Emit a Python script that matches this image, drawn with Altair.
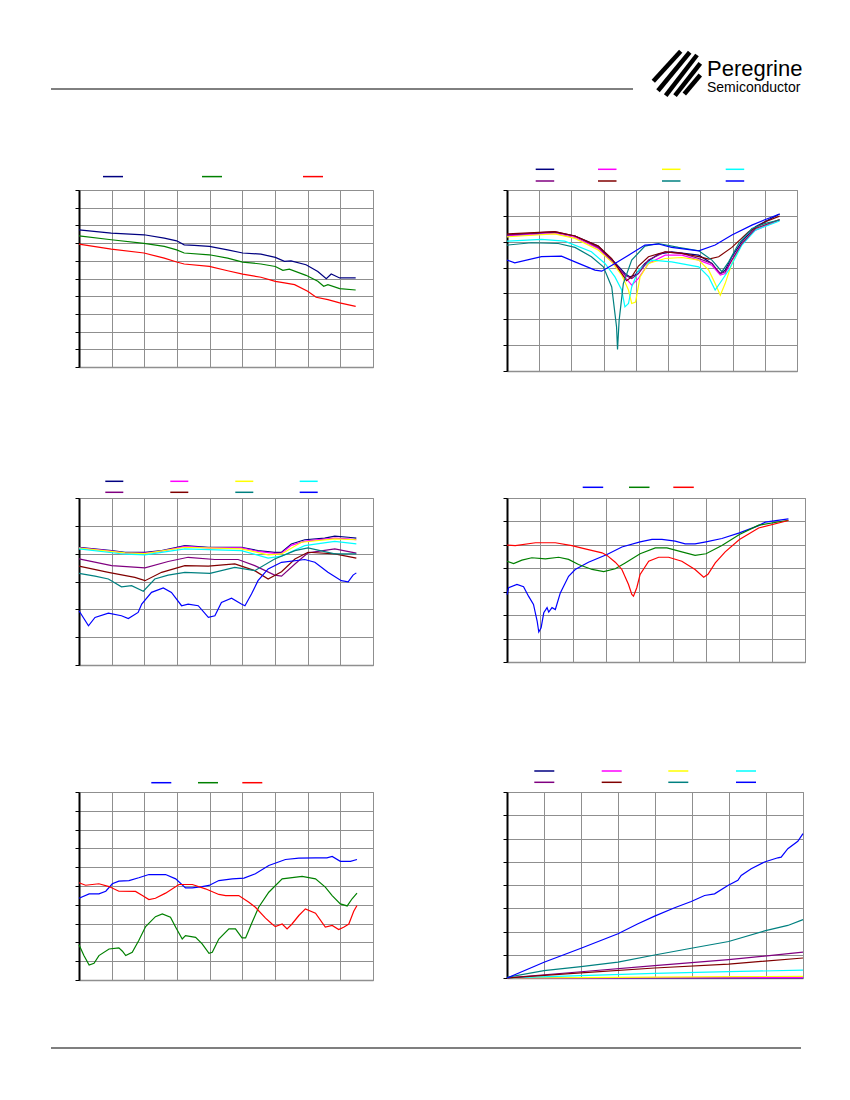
import altair as alt
import pandas as pd

GRID = "#8f8f8f"

# ---------------- colours ----------------
COL_P1 = ["#000080", "#008000", "#ff0000"]
COL_3 = ["#0000ff", "#008000", "#ff0000"]
COL_8 = ["#000080", "#ff00ff", "#ffff00", "#00ffff", "#800080", "#800000", "#008080", "#0000ff"]
NAMES_3 = ["S1", "S2", "S3"]
NAMES_8 = ["S1", "S2", "S3", "S4", "S5", "S6", "S7", "S8"]

# ---------------- panel 1 (top left) ----------------
P1_X_BLUE = [0, 0.99, 1.99, 2.61, 2.99, 3.22, 3.53, 3.99, 4.55, 5.01, 5.57, 6.01, 6.29, 6.49, 6.95, 7.31, 7.57, 7.72, 7.98, 8.47]
P1_Y_BLUE = [7.75, 7.56, 7.47, 7.28, 7.13, 6.90, 6.87, 6.81, 6.62, 6.44, 6.38, 6.19, 5.97, 6.00, 5.78, 5.40, 4.99, 5.25, 5.03, 5.03]
P1_X_GREEN = [0, 0.99, 1.99, 2.61, 2.99, 3.22, 3.99, 4.55, 5.01, 5.57, 6.01, 6.24, 6.44, 6.95, 7.31, 7.49, 7.62, 7.98, 8.47]
P1_Y_GREEN = [7.41, 7.19, 6.98, 6.81, 6.62, 6.44, 6.34, 6.15, 5.93, 5.82, 5.68, 5.46, 5.53, 5.18, 4.84, 4.56, 4.65, 4.43, 4.35]
P1_X_RED = [0, 0.99, 1.99, 2.61, 2.99, 3.22, 3.99, 4.55, 5.01, 5.57, 6.01, 6.29, 6.60, 7.00, 7.26, 7.62, 7.98, 8.47]
P1_Y_RED = [6.94, 6.66, 6.44, 6.15, 5.93, 5.82, 5.68, 5.44, 5.25, 5.07, 4.84, 4.75, 4.65, 4.28, 3.94, 3.81, 3.62, 3.43]

# ---------------- panel 2 (top right) ----------------
P2_X_NAVY = [0, 1.48, 2.11, 2.83, 3.30, 3.66, 3.82, 3.97, 4.28, 4.70, 5.11, 5.95, 6.36, 6.51, 6.62, 6.77, 6.98, 7.29, 7.71, 8.46]
P2_Y_NAVY = [5.26, 5.36, 5.22, 4.83, 4.26, 3.77, 3.64, 3.71, 4.16, 4.52, 4.61, 4.48, 4.16, 3.90, 3.77, 3.90, 4.42, 5.00, 5.58, 6.07]
P2_X_MAGENTA = [0, 1.48, 2.11, 2.83, 3.30, 3.66, 3.87, 4.08, 4.39, 4.91, 5.43, 5.95, 6.36, 6.62, 6.77, 6.98, 7.29, 7.71, 8.46]
P2_Y_MAGENTA = [5.22, 5.32, 5.17, 4.74, 4.16, 3.64, 3.32, 3.58, 4.16, 4.48, 4.48, 4.29, 4.09, 3.71, 3.77, 4.29, 4.93, 5.45, 5.84]
P2_X_YELLOW = [0, 1.48, 2.11, 2.83, 3.25, 3.56, 3.77, 3.87, 3.99, 4.13, 4.39, 4.91, 5.43, 5.95, 6.26, 6.46, 6.62, 6.77, 6.98, 7.29, 7.71, 8.46]
P2_Y_YELLOW = [5.19, 5.30, 5.13, 4.68, 4.22, 3.71, 3.13, 2.61, 2.67, 3.64, 4.16, 4.35, 4.39, 4.29, 3.90, 3.38, 2.93, 3.38, 4.16, 4.93, 5.51, 5.86]
P2_X_CYAN = [0, 1.07, 1.79, 2.62, 3.04, 3.35, 3.56, 3.66, 3.77, 3.87, 4.08, 4.49, 5.11, 5.95, 6.26, 6.46, 6.67, 6.88, 7.29, 7.71, 8.46]
P2_Y_CYAN = [5.02, 5.09, 5.02, 4.61, 4.16, 3.64, 3.13, 2.48, 2.61, 3.25, 3.90, 4.29, 4.22, 4.03, 3.64, 3.13, 3.51, 3.90, 4.87, 5.45, 5.80]
P2_X_PURPLE = [0, 1.48, 2.11, 2.83, 3.30, 3.66, 3.87, 4.08, 4.39, 4.91, 5.43, 5.95, 6.36, 6.62, 6.77, 6.98, 7.29, 7.71, 8.46]
P2_Y_PURPLE = [5.26, 5.39, 5.22, 4.78, 4.22, 3.71, 3.58, 3.77, 4.29, 4.61, 4.55, 4.35, 4.16, 3.77, 3.84, 4.29, 4.93, 5.51, 5.86]
P2_X_MAROON = [0, 1.48, 2.11, 2.83, 3.25, 3.56, 3.71, 3.87, 4.08, 4.39, 4.91, 5.43, 5.95, 6.26, 6.57, 6.98, 7.50, 8.02, 8.46]
P2_Y_MAROON = [5.30, 5.39, 5.22, 4.83, 4.35, 3.77, 3.49, 3.64, 4.06, 4.42, 4.61, 4.55, 4.42, 4.33, 4.42, 4.78, 5.39, 5.77, 5.99]
P2_X_TEAL = [0, 0.76, 1.59, 2.11, 2.62, 2.99, 3.25, 3.40, 3.43, 3.48, 3.61, 3.87, 4.28, 4.70, 5.32, 5.95, 6.36, 6.67, 6.88, 7.19, 7.60, 8.02, 8.46]
P2_Y_TEAL = [4.87, 4.96, 4.93, 4.78, 4.42, 4.03, 3.25, 1.70, 0.83, 1.96, 3.38, 4.29, 4.83, 4.93, 4.78, 4.65, 4.29, 3.84, 4.22, 4.93, 5.51, 5.71, 5.84]
P2_X_BLUE = [0, 0.24, 1.07, 1.69, 2.11, 2.73, 2.94, 3.35, 3.87, 4.28, 4.70, 5.11, 5.95, 6.46, 6.98, 7.60, 8.02, 8.46]
P2_Y_BLUE = [4.29, 4.18, 4.42, 4.44, 4.22, 3.90, 3.86, 4.16, 4.55, 4.87, 4.91, 4.78, 4.65, 4.87, 5.26, 5.64, 5.86, 6.07]

# ---------------- panel 3 (middle left) ----------------
P3_X_NAVY = [0, 1.00, 1.41, 2.02, 2.53, 3.24, 3.96, 4.97, 5.48, 5.99, 6.20, 6.50, 6.91, 7.52, 7.83, 8.24, 8.49]
P3_Y_NAVY = [4.23, 4.11, 4.05, 4.05, 4.11, 4.29, 4.23, 4.23, 4.11, 4.05, 4.05, 4.35, 4.50, 4.56, 4.63, 4.59, 4.56]
P3_X_MAGENTA = [0, 1.00, 1.41, 2.02, 2.53, 3.24, 3.96, 4.97, 5.48, 5.99, 6.20, 6.50, 6.91, 7.52, 7.83, 8.24, 8.49]
P3_Y_MAGENTA = [4.21, 4.09, 4.02, 4.02, 4.09, 4.26, 4.21, 4.21, 4.08, 4.01, 4.02, 4.30, 4.45, 4.52, 4.56, 4.53, 4.50]
P3_X_YELLOW = [0, 1.41, 2.02, 3.24, 4.97, 5.79, 6.20, 6.81, 7.83, 8.49]
P3_Y_YELLOW = [4.20, 4.03, 4.00, 4.23, 4.17, 3.96, 3.99, 4.41, 4.53, 4.50]
P3_X_CYAN = [0, 1.41, 2.02, 3.24, 4.97, 5.79, 6.20, 6.91, 7.83, 8.49]
P3_Y_CYAN = [4.17, 3.98, 3.96, 4.17, 4.11, 3.84, 3.91, 4.29, 4.44, 4.35]
P3_X_PURPLE = [0, 1.00, 2.02, 2.73, 3.34, 4.16, 4.87, 5.38, 5.99, 6.20, 6.61, 7.01, 7.83, 8.49]
P3_Y_PURPLE = [3.81, 3.57, 3.49, 3.72, 3.87, 3.79, 3.79, 3.57, 3.23, 3.19, 3.63, 4.03, 4.17, 4.02]
P3_X_MAROON = [0, 0.90, 1.71, 2.02, 2.53, 3.24, 3.96, 4.77, 5.38, 5.79, 6.20, 6.61, 7.01, 7.83, 8.49]
P3_Y_MAROON = [3.55, 3.33, 3.15, 3.03, 3.33, 3.57, 3.55, 3.63, 3.39, 3.09, 3.35, 3.81, 4.05, 3.99, 3.84]
P3_X_TEAL = [0, 0.49, 0.90, 1.30, 1.61, 1.97, 2.32, 2.73, 3.24, 4.01, 4.77, 5.38, 5.99, 6.61, 7.01, 7.83, 8.49]
P3_Y_TEAL = [3.29, 3.19, 3.09, 2.81, 2.85, 2.65, 3.09, 3.23, 3.33, 3.29, 3.51, 3.39, 3.81, 4.11, 4.21, 3.99, 3.99]
P3_X_BLUE = [0, 0.29, 0.49, 0.90, 1.30, 1.51, 1.81, 1.92, 2.22, 2.58, 2.83, 3.14, 3.34, 3.65, 3.96, 4.16,
             4.36, 4.67, 4.97, 5.08, 5.28, 5.48, 5.79, 6.20, 6.91, 7.22, 7.62, 8.03, 8.24, 8.39, 8.49]
P3_Y_BLUE = [1.95, 1.41, 1.71, 1.86, 1.77, 1.67, 1.89, 2.19, 2.61, 2.77, 2.61, 2.13, 2.19, 2.13, 1.71, 1.77,
             2.25, 2.40, 2.19, 2.13, 2.55, 3.03, 3.45, 3.69, 3.79, 3.69, 3.33, 3.03, 2.99, 3.23, 3.31]

# ---------------- panel 4 (middle right) ----------------
P4_X_BLUE = [0, 0.05, 0.30, 0.50, 0.65, 0.80, 0.91, 0.96, 1.03, 1.11, 1.21, 1.26, 1.36, 1.46, 1.61, 1.86,
             2.06, 2.46, 3.02, 3.47, 4.02, 4.38, 4.68, 5.08, 5.38, 5.68, 6.01, 6.49, 7.02, 7.60, 7.80, 8.50]
P4_Y_BLUE = [2.88, 3.17, 3.31, 3.21, 2.81, 2.46, 1.75, 1.28, 1.46, 2.10, 2.32, 2.13, 2.32, 2.24, 2.95, 3.66,
             3.95, 4.26, 4.59, 4.91, 5.13, 5.23, 5.23, 5.16, 5.04, 5.04, 5.13, 5.27, 5.51, 5.82, 5.97, 6.11]
P4_X_GREEN = [0, 0.20, 0.45, 0.75, 1.16, 1.56, 1.86, 2.16, 2.57, 2.92, 3.27, 3.57, 4.02, 4.48, 4.83, 5.28,
              5.68, 6.01, 6.49, 7.02, 7.60, 8.50]
P4_Y_GREEN = [4.30, 4.20, 4.35, 4.45, 4.40, 4.47, 4.38, 4.16, 3.95, 3.86, 3.98, 4.23, 4.62, 4.87, 4.87, 4.70,
              4.55, 4.62, 4.97, 5.44, 5.84, 6.05]
P4_X_RED = [0, 0.25, 0.86, 1.46, 1.96, 2.36, 2.87, 3.02, 3.27, 3.47, 3.67, 3.77, 3.82, 3.92, 4.02, 4.28,
            4.58, 4.88, 5.28, 5.68, 5.94, 6.07, 6.29, 6.59, 7.02, 7.60, 8.50]
P4_Y_RED = [4.99, 4.97, 5.09, 5.09, 4.97, 4.83, 4.66, 4.55, 4.26, 3.95, 3.31, 2.88, 2.81, 3.17, 3.74, 4.30,
            4.47, 4.47, 4.30, 3.95, 3.62, 3.74, 4.23, 4.70, 5.23, 5.72, 6.04]

# ---------------- panel 5 (bottom left) ----------------
P5_X_BLUE = [0, 0.31, 0.61, 0.82, 1.02, 1.22, 1.53, 1.83, 2.14, 2.65, 2.96, 3.26, 3.47, 3.77, 3.98, 4.28,
             4.69, 5.05, 5.40, 5.81, 6.32, 6.73, 7.24, 7.59, 7.75, 8.00, 8.31, 8.51]
P5_Y_BLUE = [4.35, 4.58, 4.58, 4.72, 5.12, 5.26, 5.29, 5.44, 5.61, 5.61, 5.38, 4.90, 4.90, 4.97, 5.03, 5.29,
             5.38, 5.42, 5.65, 6.09, 6.41, 6.48, 6.50, 6.50, 6.57, 6.31, 6.31, 6.41]
P5_X_GREEN = [0, 0.15, 0.31, 0.46, 0.61, 0.92, 1.22, 1.33, 1.43, 1.63, 1.83, 2.04, 2.34, 2.55, 2.80, 2.96,
              3.16, 3.26, 3.57, 3.77, 3.98, 4.08, 4.28, 4.59, 4.79, 4.99, 5.10, 5.30, 5.50, 5.81, 6.22,
              6.83, 7.24, 7.54, 7.75, 8.00, 8.21, 8.36, 8.51]
P5_Y_GREEN = [1.88, 1.30, 0.80, 0.89, 1.30, 1.65, 1.71, 1.53, 1.30, 1.47, 2.10, 2.84, 3.37, 3.52, 3.34, 2.81,
              2.18, 2.36, 2.27, 1.92, 1.42, 1.47, 2.18, 2.72, 2.72, 2.24, 2.24, 3.07, 3.87, 4.67, 5.38,
              5.51, 5.38, 4.94, 4.49, 4.05, 3.94, 4.32, 4.62]
P5_X_RED = [0, 0.20, 0.61, 0.92, 1.22, 1.73, 1.94, 2.14, 2.34, 2.65, 3.06, 3.47, 3.87, 4.28, 4.49, 4.89,
            5.20, 5.40, 5.71, 5.91, 6.01, 6.22, 6.37, 6.52, 6.73, 6.93, 7.24, 7.54, 7.75, 7.95, 8.10,
            8.26, 8.41, 8.51]
P5_Y_RED = [5.17, 5.04, 5.12, 4.97, 4.72, 4.71, 4.49, 4.28, 4.35, 4.62, 5.08, 5.08, 4.85, 4.55, 4.49, 4.49,
            4.14, 3.87, 3.29, 2.98, 2.84, 2.98, 2.72, 2.98, 3.43, 3.78, 3.55, 2.81, 2.90, 2.68, 2.81,
            2.98, 3.66, 3.96]

# ---------------- panel 6 (bottom right) ----------------
P6_X_FEW = [0, 2.00, 3.99, 5.99, 8.00]
P6_Y_NAVY = [0, 0.0, 0.0, 0.005, 0.005]
P6_Y_MAGENTA = [0, 0.005, 0.01, 0.01, 0.015]
P6_Y_YELLOW = [0, 0.02, 0.04, 0.06, 0.07]
P6_Y_CYAN = [0, 0.10, 0.20, 0.27, 0.34]
P6_Y_PURPLE = [0, 0.27, 0.53, 0.79, 1.11]
P6_Y_MAROON = [0, 0.22, 0.43, 0.60, 0.86]
P6_X_TEAL = [0, 1.00, 2.00, 3.00, 3.99, 4.98, 5.99, 6.99, 7.59, 8.00]
P6_Y_TEAL = [0.03, 0.32, 0.49, 0.68, 0.99, 1.28, 1.57, 2.04, 2.26, 2.51]
P6_X_BLUE = [0, 1.00, 2.00, 3.00, 3.54, 3.99, 4.53, 4.98, 5.34, 5.61, 5.97, 6.24, 6.33, 6.60, 6.96, 7.32,
             7.41, 7.59, 7.86, 8.00]
P6_Y_BLUE = [0, 0.68, 1.28, 1.90, 2.33, 2.66, 3.02, 3.29, 3.55, 3.62, 3.98, 4.20, 4.41, 4.70, 4.99, 5.17,
             5.20, 5.56, 5.88, 6.21]


def frame(names, xs, ys):
    rows = []
    for n, xl, yl in zip(names, xs, ys):
        for x, y in zip(xl, yl):
            rows.append({"series": n, "x": x, "y": y})
    return pd.DataFrame(rows)


ONE = alt.Data(values=[{}])


def legend_rules(colors, xs, ys, w, ncol):
    layers = []
    for i, c in enumerate(colors):
        x0 = xs[i % ncol]
        y0 = ys[i // ncol]
        layers.append(
            alt.Chart(ONE).mark_rule(color=c, strokeWidth=1.5).encode(
                x=alt.value(x0), x2=alt.value(x0 + w), y=alt.value(y0)
            )
        )
    return layers


def panel(df, names, colors, xmax, ymax, w, h, legend, extra=None):
    lines = alt.Chart(df).mark_line(strokeWidth=1.2).encode(
        x=alt.X("x:Q", scale=alt.Scale(domain=[0, xmax], nice=False, zero=False),
                axis=alt.Axis(values=list(range(xmax + 1)), labels=False, ticks=False, title=None,
                              grid=True, gridColor=GRID, gridWidth=1, domainColor=GRID, domainWidth=1.5)),
        y=alt.Y("y:Q", scale=alt.Scale(domain=[0, ymax], nice=False, zero=False),
                axis=alt.Axis(values=list(range(ymax + 1)), labels=False, ticks=True, tickSize=4,
                              tickColor="black", tickWidth=1, domainColor="black", domainWidth=2,
                              title=None, grid=True, gridColor=GRID, gridWidth=1)),
        color=alt.Color("series:N", scale=alt.Scale(domain=names, range=colors), legend=None),
    )
    layers = [lines] + legend + (extra or [])
    return alt.layer(*layers).properties(width=w, height=h)


# header / footer decorations (relative to panel 1's plot origin)
BLADES = [(574.3, -108.7, 601.7, -138.7), (579, -99.3, 610.7, -137.7), (586.7, -94.3, 618, -135),
          (596, -94.3, 621.3, -126.7), (605.3, -96, 621.3, -115)]
deco = [
    alt.Chart(ONE).mark_rule(color="black", strokeWidth=1).encode(
        x=alt.value(-28), x2=alt.value(554), y=alt.value(-101)),
    alt.Chart(ONE).mark_rule(color="black", strokeWidth=1.2).encode(
        x=alt.value(-28), x2=alt.value(722), y=alt.value(858)),
    alt.Chart(ONE).mark_text(text="Peregrine", font="Liberation Sans", fontSize=22, align="left",
                             baseline="alphabetic", color="black").encode(
        x=alt.value(628), y=alt.value(-114.3)),
    alt.Chart(ONE).mark_text(text="Semiconductor", font="Liberation Sans", fontSize=14, align="left",
                             baseline="alphabetic", color="black").encode(
        x=alt.value(628), y=alt.value(-98.3)),
]
for (xa, ya, xb, yb) in BLADES:
    deco.append(alt.Chart(ONE).mark_rule(color="black", strokeWidth=4.5, strokeCap="butt").encode(
        x=alt.value(xa), y=alt.value(ya), x2=alt.value(xb), y2=alt.value(yb)))

p1 = panel(frame(NAMES_3, [P1_X_BLUE, P1_X_GREEN, P1_X_RED], [P1_Y_BLUE, P1_Y_GREEN, P1_Y_RED]),
           NAMES_3, COL_P1, 9, 10, 294, 177,
           legend_rules(COL_P1, [24, 123, 224], [-13.4], 20, 3), deco)

p2 = panel(frame(NAMES_8,
                 [P2_X_NAVY, P2_X_MAGENTA, P2_X_YELLOW, P2_X_CYAN, P2_X_PURPLE, P2_X_MAROON, P2_X_TEAL, P2_X_BLUE],
                 [P2_Y_NAVY, P2_Y_MAGENTA, P2_Y_YELLOW, P2_Y_CYAN, P2_Y_PURPLE, P2_Y_MAROON, P2_Y_TEAL, P2_Y_BLUE]),
           NAMES_8, COL_8, 9, 7, 290, 181,
           legend_rules(COL_8, [28.7, 91, 155, 218.7], [-20.7, -9], 18.5, 4))

p3 = panel(frame(NAMES_8,
                 [P3_X_NAVY, P3_X_MAGENTA, P3_X_YELLOW, P3_X_CYAN, P3_X_PURPLE, P3_X_MAROON, P3_X_TEAL, P3_X_BLUE],
                 [P3_Y_NAVY, P3_Y_MAGENTA, P3_Y_YELLOW, P3_Y_CYAN, P3_Y_PURPLE, P3_Y_MAROON, P3_Y_TEAL, P3_Y_BLUE]),
           NAMES_8, COL_8, 9, 6, 294, 167,
           legend_rules(COL_8, [26.3, 91.3, 156.3, 220.7], [-16.7, -5.7], 18, 4))

p4 = panel(frame(NAMES_3, [P4_X_BLUE, P4_X_GREEN, P4_X_RED], [P4_Y_BLUE, P4_Y_GREEN, P4_Y_RED]),
           NAMES_3, COL_3, 9, 7, 298, 164,
           legend_rules(COL_3, [75.7, 122, 166.3], [-10.7], 20.5, 3))

p5 = panel(frame(NAMES_3, [P5_X_BLUE, P5_X_GREEN, P5_X_RED], [P5_Y_BLUE, P5_Y_GREEN, P5_Y_RED]),
           NAMES_3, COL_3, 9, 10, 294, 188,
           legend_rules(COL_3, [72.3, 119, 163.3], [-9.3], 20, 3))

p6 = panel(frame(NAMES_8,
                 [P6_X_FEW, P6_X_FEW, P6_X_FEW, P6_X_FEW, P6_X_FEW, P6_X_FEW, P6_X_TEAL, P6_X_BLUE],
                 [P6_Y_NAVY, P6_Y_MAGENTA, P6_Y_YELLOW, P6_Y_CYAN, P6_Y_PURPLE, P6_Y_MAROON, P6_Y_TEAL, P6_Y_BLUE]),
           NAMES_8, COL_8, 8, 8, 296, 186,
           legend_rules(COL_8, [27.3, 94.7, 161.3, 229], [-21, -9.7], 20, 4))

chart = alt.concat(p1, p2, p3, p4, p5, p6, columns=2, spacing={"row": 127, "column": 134},
                   bounds="flush", align="none").resolve_scale(
    color="independent", x="independent", y="independent"
).properties(
    padding={"left": 41, "top": 40, "right": 4, "bottom": 4},
    background="white",
).configure_view(stroke=GRID, strokeWidth=1)

chart.save("out.html", embed_options={"renderer": "svg", "actions": False})
